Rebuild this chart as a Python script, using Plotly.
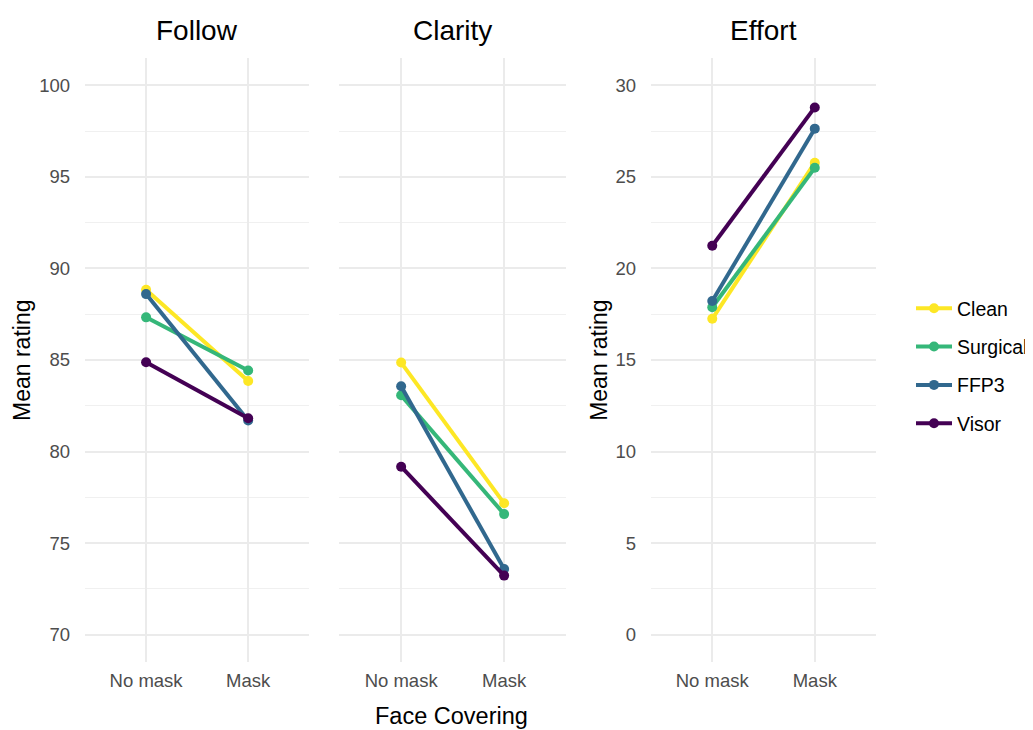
import plotly.graph_objects as go
from plotly.subplots import make_subplots

conditions = ["No mask", "Mask"]
groups = ["Clean", "Surgical", "FFP3", "Visor"]
colors = ["#FDE725", "#35B779", "#31688E", "#440154"]
panels = ["Follow", "Clarity", "Effort"]

follow = {"Clean": [88.84, 83.85], "Surgical": [87.33, 84.43],
          "FFP3": [88.60, 81.70], "Visor": [84.88, 81.82]}
clarity = {"Clean": [84.86, 77.17], "Surgical": [83.07, 76.58],
           "FFP3": [83.57, 73.58], "Visor": [79.17, 73.22]}
effort = {"Clean": [17.25, 25.78], "Surgical": [17.88, 25.50],
          "FFP3": [18.22, 27.64], "Visor": [21.24, 28.80]}
data = [follow, clarity, effort]

OFF = 8  # page body margin
W, H = 1033 - OFF, 730 - OFF
FONT = "Liberation Sans, Arial, sans-serif"


def px(x):
    return (x - OFF) / W


def py(y):
    return 1 - (y - OFF) / H


fig = make_subplots(rows=1, cols=3)

for p, d in enumerate(data):
    for g, c in zip(groups, colors):
        fig.add_trace(go.Scatter(
            x=conditions, y=d[g], mode="lines+markers", name=g,
            line=dict(color=c, width=4), marker=dict(color=c, size=10),
            legendgroup=g, showlegend=(p == 0)), row=1, col=p + 1)

xdoms = [(85, 310), (340, 567), (652, 878)]
ytop, ybot = 58, 662
ydom = [py(ybot), py(ytop)]

grid_major = "#EBEBEB"
tick_font = dict(family=FONT, size=18.5, color="#4D4D4D")

for i, (a, b) in enumerate(xdoms):
    xa = "xaxis" if i == 0 else f"xaxis{i+1}"
    ya = "yaxis" if i == 0 else f"yaxis{i+1}"
    fig.layout[xa].update(domain=[px(a), px(b)], range=[-0.6, 1.6], automargin=False,
                          showgrid=True, gridcolor=grid_major, gridwidth=2,
                          zeroline=False, showline=False, tickfont=tick_font,
                          ticks="outside", ticklen=2, tickcolor="rgba(0,0,0,0)")
    rng = [-1.5, 31.5] if i == 2 else [68.5, 101.5]
    fig.layout[ya].update(domain=ydom, range=rng, dtick=5, automargin=False,
                          showgrid=True, gridcolor=grid_major, gridwidth=2,
                          zeroline=False, showline=False, tickfont=tick_font,
                          showticklabels=(i != 1),
                          ticks="outside", ticklen=10, tickcolor="rgba(0,0,0,0)",
                          minor=dict(dtick=2.5, showgrid=True, gridcolor="#F0F0F0", gridwidth=1))
    fig.add_annotation(text=panels[i], x=px((a + b) / 2), y=py(30),
                       xanchor="center", yanchor="middle",
                       xref="paper", yref="paper", showarrow=False,
                       font=dict(family=FONT, size=28, color="black"))

for xc in [22, 600]:
    fig.add_annotation(text="Mean rating", x=px(xc), y=py(360), textangle=-90,
                       xanchor="center", yanchor="middle",
                       xref="paper", yref="paper", showarrow=False,
                       font=dict(family=FONT, size=23, color="black"))

fig.add_annotation(text="Face Covering", x=px(452), y=py(716),
                   xanchor="center", yanchor="middle",
                   xref="paper", yref="paper", showarrow=False,
                   font=dict(family=FONT, size=23.5, color="black"))

fig.update_layout(
    width=W, height=H, margin=dict(l=0, r=0, t=0, b=0),
    plot_bgcolor="white", paper_bgcolor="white",
    legend=dict(x=px(913), y=py(366), xanchor="left", yanchor="middle",
                font=dict(family=FONT, size=19.5, color="black"),
                tracegroupgap=10, itemwidth=36, bgcolor="rgba(0,0,0,0)"),
)

fig.write_html("out.html")
